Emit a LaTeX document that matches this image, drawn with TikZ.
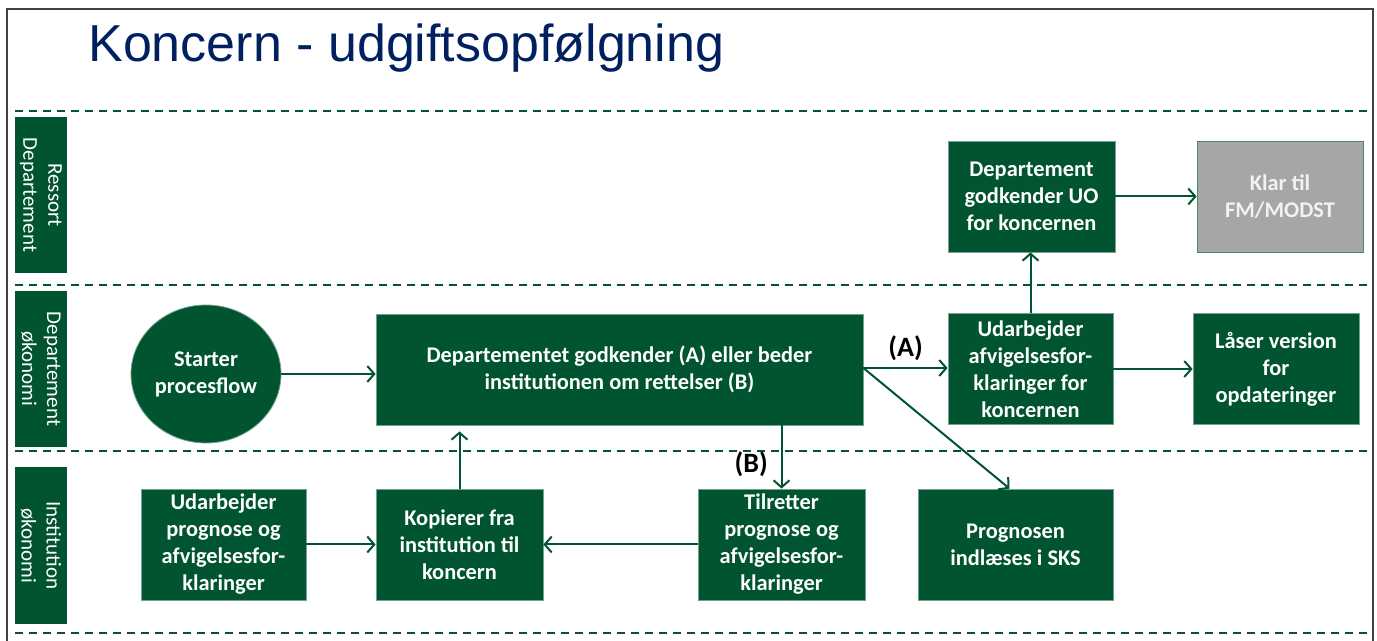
\documentclass[tikz,border=0pt]{standalone}
\usepackage{fontspec}
\setmainfont{Carlito}
\newfontfamily\titlefont{Liberation Sans}
\usetikzlibrary{arrows.meta,shapes.geometric}
\definecolor{dg}{RGB}{0,84,48}
\definecolor{navy}{RGB}{0,32,96}
\definecolor{klargray}{RGB}{166,166,166}
\definecolor{klartext}{RGB}{242,242,242}
\begin{document}
\begin{tikzpicture}[x=0.5pt,y=-0.5pt,
  box/.style={fill=dg, draw=dg!55!white, line width=0.4pt, text=white,
    font=\bfseries\fontsize{11.2}{13.5}\selectfont, align=center, inner sep=0pt},
  sz/.style 2 args={minimum width=#1*0.5pt, minimum height=#2*0.5pt},
  lane/.style={fill=dg, inner sep=0pt},
  lanetext/.style={rotate=-90, text=white, align=center, font=\fontsize{10.5}{12.5}\selectfont},
  lanesep/.style={draw=dg, line width=1pt, dash pattern=on 4pt off 3pt},
  conn/.style={draw=dg, line width=1pt, -{Straight Barb[length=3.5pt,width=8pt]}},
  lbl/.style={font=\bfseries\fontsize{14}{16}\selectfont, text=black},
]
\useasboundingbox (0,0) rectangle (1377,641);
% frame
\draw[black!75, line width=1.2pt] (7,641) -- (7,9) -- (1373,9) -- (1373,641);
% title
\node[anchor=base west, inner sep=0pt, text=navy, font=\titlefont\fontsize{26}{30}\selectfont] (title) at (88,62) {Koncern - udgiftsopfølgning};
% lane separators
\coordinate (s1l) at (15,111); \coordinate (s1r) at (1372,111);
\coordinate (s2l) at (15,285); \coordinate (s2r) at (1372,285);
\coordinate (s3l) at (15,451); \coordinate (s3r) at (1372,451);
\coordinate (s4l) at (15,633); \coordinate (s4r) at (1372,633);
\draw[lanesep] (s1l) -- (s1r);
\draw[lanesep] (s2l) -- (s2r);
\draw[lanesep] (s3l) -- (s3r);
\draw[lanesep] (s4l) -- (s4r);
% lane labels
\node[lane, minimum width=52*0.5pt, minimum height=156*0.5pt] (l1) at (41,195) {};
\node[lanetext] (l1t) at (l1) {Ressort\\Departement};
\node[lane, minimum width=52*0.5pt, minimum height=156*0.5pt] (l2) at (41,369) {};
\node[lanetext] (l2t) at (l2) {Departement\\økonomi};
\node[lane, minimum width=52*0.5pt, minimum height=157*0.5pt] (l3) at (41,545.5) {};
\node[lanetext] (l3t) at (l3) {Institution\\økonomi};
% nodes
\node[box, ellipse, sz={150}{138}] (start) at (206,374) {Starter\\procesflow};
\node[box, sz={487}{111}] (main) at (619.5,369.5) {Departementet godkender (A) eller beder\\institutionen om rettelser (B)};
\node[box, sz={165}{111}] (afv) at (1030.5,369) {Udarbejder\\afvigelsesfor-\\klaringer for\\koncernen};
\node[box, sz={166}{111}] (laas) at (1276,369) {Låser version\\for\\opdateringer};
\node[box, sz={167}{111}] (godk) at (1031.5,196.5) {Departement\\godkender UO\\for koncernen};
\node[box, sz={166}{111}, fill=klargray, draw=dg!70!white, text=klartext] (klar) at (1280,196.5) {Klar til\\FM/MODST};
\node[box, sz={165}{111}] (udp) at (223.5,544.5) {Udarbejder\\prognose og\\afvigelsesfor-\\klaringer};
\node[box, sz={167}{111}] (kop) at (459.5,544.5) {Kopierer fra\\institution til\\koncern};
\node[box, sz={167}{111}] (tilr) at (781.5,544.5) {Tilretter\\prognose og\\afvigelsesfor-\\klaringer};
\node[box, sz={195}{111}] (prog) at (1015.5,544.5) {Prognosen\\indlæses i SKS};
% connectors
\draw[conn] (start) -- (start -| main.west);
\draw[conn] ([yshift=0.75pt]main.east) -- ([yshift=0.75pt]main.east -| afv.west) node[lbl, midway, above=0pt] (la) {(A)};
\draw[conn] ([yshift=0.75pt]main.east) -- ([xshift=-3pt]prog.north);
\draw[conn] (tilr.north |- main.south) -- (tilr.north) node[lbl, pos=0.62, left=3pt] (lb) {(B)};
\draw[conn, shorten >=3pt] (kop.north) -- (kop.north |- main.south);
\draw[conn] (udp) -- (kop);
\draw[conn] (tilr) -- (kop);
\draw[conn] (afv.north) -- (afv.north |- godk.south);
\draw[conn] (godk) -- (klar);
\draw[conn] (afv) -- (laas);
\end{tikzpicture}
\end{document}
